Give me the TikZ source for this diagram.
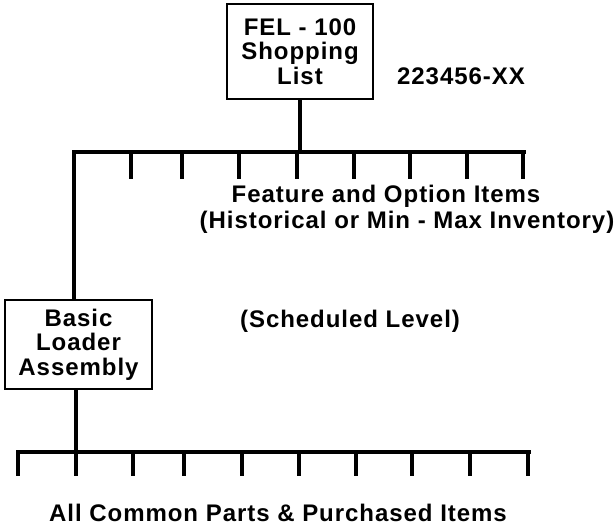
\documentclass[tikz,border=0pt]{standalone}
\usepackage{fontspec}
\setmainfont{Liberation Sans}[LetterSpace=4]
\begin{document}
\begin{tikzpicture}[x=1pt,y=-1pt,
  lbl/.style={font=\bfseries\fontsize{24}{24.5}\selectfont, inner sep=0pt, align=center},
  boxnode/.style={draw, line width=2pt, inner sep=0pt, align=center, font=\bfseries\fontsize{24}{24.5}\selectfont},
  bus/.style={line width=4.5pt, line cap=rect},
  tick/.style={line width=4pt},
  conn/.style={line width=3.5pt}]
\useasboundingbox (0,0) rectangle (615,528);
% top box
\node[boxnode, minimum width=146pt, minimum height=95pt] (top) at (300,51.5) {FEL - 100\\Shopping\\List};
\node[lbl] (num) at (461,76) {223456-XX};
% top bus
\coordinate (tL) at (74,152);
\coordinate (tR) at (524,152);
\coordinate (tJ) at (300,152);
\draw[bus] (tL) -- (tR);
\draw[conn] (top.south) -- (tJ);
\foreach \x [count=\i] in {131,182,239,297,354,410,467,523}{
  \coordinate (tt\i) at (\x,152);
  \coordinate (te\i) at (\x,179);
  \draw[tick] (tt\i) -- (te\i);
}
\node[lbl] (feat) at (386,196) {Feature and Option Items};
\node[lbl] (hist) at (407,222) {(Historical or Min - Max Inventory)};
% basic box
\node[boxnode, minimum width=147pt, minimum height=89pt] (basic) at (78.5,344.5) {Basic\\Loader\\Assembly};
\draw[conn] (tL) -- (tL |- basic.north);
\node[lbl] (sched) at (350,321) {(Scheduled Level)};
% bottom bus
\coordinate (bL) at (18,452);
\coordinate (bR) at (529,452);
\coordinate (bJ) at (76,452);
\draw[bus] (bL) -- (bR);
\draw[conn] (basic.south -| bJ) -- (bJ);
\foreach \x [count=\i] in {18,76,133,184,242,299,356,412,470,528}{
  \coordinate (bt\i) at (\x,452);
  \coordinate (be\i) at (\x,476);
  \draw[tick] (bt\i) -- (be\i);
}
\node[lbl] (common) at (278,513) {All Common Parts \& Purchased Items};
\end{tikzpicture}
\end{document}
